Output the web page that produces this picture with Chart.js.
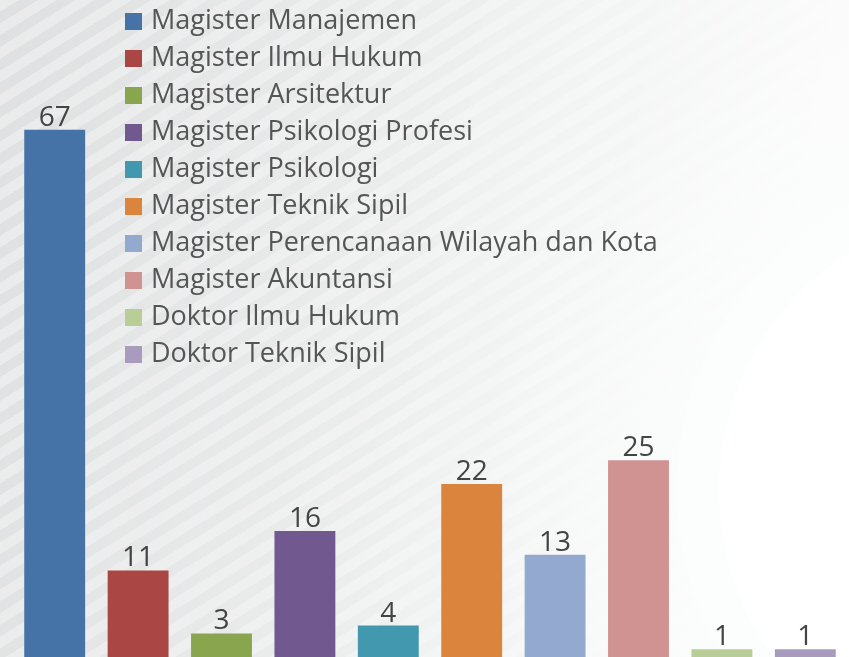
<!DOCTYPE html>
<html>
<head>
<meta charset="utf-8">
<script src="https://cdn.jsdelivr.net/npm/chart.js@4.4.1/dist/chart.umd.min.js"></script>
<style>
  html, body { margin: 0; padding: 0; }
  body { width: 849px; height: 657px; overflow: hidden; position: relative;
         background: linear-gradient(100deg, #e3e4e5 0%, #ebecec 35%, #f4f5f5 60%, #fbfbfb 85%, #fdfdfd 100%); }
  #stripes { position: absolute; left: 0; top: 0; width: 849px; height: 657px;
         background: repeating-linear-gradient(148deg, rgba(255,255,255,0.25) 0 10px, rgba(0,0,0,0.015) 10px 20px);
         -webkit-mask-image: linear-gradient(100deg, #000 0%, rgba(0,0,0,0.7) 45%, transparent 95%);
         mask-image: linear-gradient(100deg, #000 0%, rgba(0,0,0,0.7) 45%, transparent 95%); }
  #glow { position: absolute; left: 0; top: 0; width: 849px; height: 657px;
         background: radial-gradient(circle at 1000px 490px, #fff 0 280px, #fcfdfd 282px 322px, rgba(252,253,253,0.6) 325px, rgba(255,255,255,0) 520px); }
  #wrap { position: absolute; left: 0; top: 0; width: 849px; height: 657px; }
  #legend { position: absolute; left: 125px; top: 0px; font-family: "Open Sans", Lato, sans-serif;
         font-size: 27px; color: #555; }
  .item { height: 37px; line-height: 37px; white-space: nowrap; }
  .box { display: inline-block; width: 17px; height: 17px; margin-right: 9px; vertical-align: -1px; }
</style>
</head>
<body>
<div id="stripes"></div>
<div id="glow"></div>
<div id="wrap"><canvas id="chart" width="849" height="657"></canvas></div>
<div id="legend"></div>
<script>
var categories = ["Magister Manajemen", "Magister Ilmu Hukum", "Magister Arsitektur", "Magister Psikologi Profesi",
  "Magister Psikologi", "Magister Teknik Sipil", "Magister Perencanaan Wilayah dan Kota", "Magister Akuntansi",
  "Doktor Ilmu Hukum", "Doktor Teknik Sipil"];
var values = [67, 11, 3, 16, 4, 22, 13, 25, 1, 1];
var colors = ["#4572A7", "#AA4643", "#89A54E", "#71588F", "#4198AF", "#DB843D", "#93A9CF", "#D19392", "#B9CD96", "#A99BBD"];

// legend in html
var legend = document.getElementById("legend");
categories.forEach(function (name, i) {
  var row = document.createElement("div");
  row.className = "item";
  var box = document.createElement("span");
  box.className = "box";
  box.style.background = colors[i];
  row.appendChild(box);
  row.appendChild(document.createTextNode(name));
  legend.appendChild(row);
});

// value above each bar
var valueLabels = {
  id: "valueLabels",
  afterDatasetsDraw: function (chart) {
    var ctx = chart.ctx;
    var meta = chart.getDatasetMeta(0);
    ctx.save();
    ctx.font = "28px 'Open Sans', Lato, sans-serif";
    ctx.fillStyle = "#444";
    ctx.textAlign = "center";
    ctx.textBaseline = "alphabetic";
    meta.data.forEach(function (bar, i) {
      ctx.fillText(values[i], bar.x, bar.y - 4);
    });
    ctx.restore();
  }
};

var ctx = document.getElementById("chart").getContext("2d");
var myChart = new Chart(ctx, {
  type: "bar",
  data: {
    labels: categories,
    datasets: [{
      data: values,
      backgroundColor: colors,
      categoryPercentage: 1,
      barPercentage: 0.73
    }]
  },
  options: {
    responsive: false,
    animation: false,
    layout: { padding: { left: 13, right: 2, top: 0, bottom: 0 } },
    plugins: { legend: { display: false }, tooltip: { enabled: false } },
    scales: {
      x: { display: false },
      y: { display: false, min: 0, max: 83.5 }
    }
  },
  plugins: [valueLabels]
});
</script>
</body>
</html>
